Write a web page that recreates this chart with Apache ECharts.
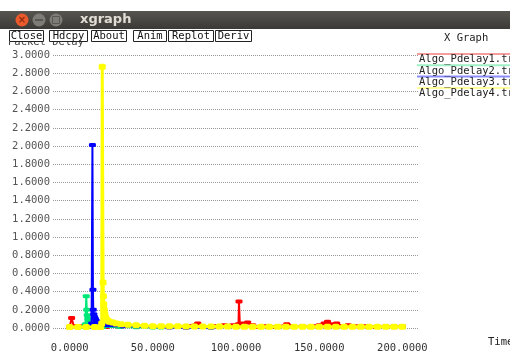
<!DOCTYPE html>
<html><head><meta charset="utf-8">
<script src="https://cdn.jsdelivr.net/npm/echarts@6/dist/echarts.min.js"></script>
<style>html,body{margin:0;padding:0;background:#fff}#c{width:510px;height:354px}</style>
</head><body><div id="c"></div>
<script>
// ---- data (time in s, delay) ----
const seriesNames = ['Algo_Pdelay1.tr','Algo_Pdelay2.tr','Algo_Pdelay3.tr','Algo_Pdelay4.tr'];
const yTicks = {min: 0, max: 3, step: 0.2};
const xTicks = {min: -10, max: 210, step: 10, labelEvery: 50};
const xGridLines = [50, 100, 150, 200];
const pdelay1 = [[0,0.01],[1.2,0.11],[2.5,0.02],[8,0.02],[15,0.02],[22,0.01],[30,0.01],[40,0.01],[50,0.01],[60,0.01],[70,0.02],[77,0.05],[80,0.02],[88,0.02],[93,0.03],[98,0.03],[101.5,0.04],[101.8,0.29],[102.3,0.04],[104,0.05],[107,0.06],[110,0.03],[113,0.01],[118,0.02],[124,0.01],[130.5,0.04],[134,0.02],[140,0.02],[146,0.02],[150,0.03],[153,0.05],[155,0.07],[157,0.04],[160.5,0.05],[164,0.02],[167.5,0.03],[172,0.02],[178,0.02],[184,0.01],[190,0.02],[195,0.02],[200,0.02]];
const pdelay2 = [[8.5,0.01],[9.5,0.04],[10,0.35],[10.3,0.2],[10.6,0.14],[11,0.1],[11.5,0.08],[12,0.06],[12.5,0.04],[13,0.03],[14,0.02],[16,0.015],[20,0.01],[30,0.01],[40,0.008],[50,0.006],[55,0.005]];
const pdelay3 = [[12.5,0.01],[13.2,0.05],[13.7,2.01],[14,0.42],[14.2,0.2],[14.5,0.15],[15,0.12],[15.5,0.1],[16,0.08],[17,0.06],[18,0.05],[20,0.04],[23,0.03],[27,0.03],[32,0.02],[40,0.02],[50,0.01],[60,0.005],[70,0.004],[85,0.003]];
const pdelay4 = [[0,0.01],[5,0.01],[10,0.01],[15,0.01],[18.5,0.01],[19.3,0.05],[19.6,2.87],[20.1,0.5],[20.3,0.35],[20.5,0.26],[20.8,0.2],[21.1,0.15],[21.5,0.12],[22,0.1],[23,0.08],[24,0.07],[26,0.06],[28,0.05],[31,0.04],[35,0.035],[40,0.03],[45,0.025],[50,0.02],[55,0.02],[60,0.018],[65,0.018],[70,0.017],[75,0.017],[80,0.016],[85,0.016],[90,0.016],[95,0.016],[100,0.015],[105,0.015],[110,0.015],[115,0.015],[120,0.015],[125,0.015],[130,0.015],[135,0.015],[140,0.015],[145,0.015],[150,0.015],[155,0.015],[160,0.015],[165,0.015],[170,0.015],[175,0.015],[180,0.015],[185,0.015],[190,0.015],[195,0.015],[200,0.015]];
const allData = [pdelay1, pdelay2, pdelay3, pdelay4];
const buttons = ['Close','Hdcpy','About','Anim','Replot','Deriv'];

// ---- styles ----
const colors = ['#ff0000','#00e878','#0000ff','#ffff00'];
const legendColors = ['#f59c9c','#9ff0c6','#8c8cff','#ffff9a'];
const mono = 'DejaVu Sans Mono';
const buttonBoxes = [[9,43],[49,87],[91,126],[133,166],[168,213],[215,251]];

const chart = echarts.init(document.getElementById('c'), null, {renderer:'canvas'});

const series = [{
  type:'line', data:[], silent:true, clip:false, z:1,
  markLine:{silent:true, symbol:['none','none'], animation:false, label:{show:false},
    lineStyle:{color:'#444', type:[1,1], width:1},
    data: xGridLines.map(v => [{coord:[v,-0.08]},{coord:[v,3.02]}])}
}];
allData.forEach((d,i) => series.push({
  name: seriesNames[i], type:'line', data:d, z: 2+i,
  symbol:'roundRect', symbolSize: i===3 ? [7,6] : [7,4], showSymbol:true,
  itemStyle:{color:colors[i]}, lineStyle:{color:colors[i], width: i===3 ? 3 : 2},
  animation:false, silent:true
}));

const graphic = [
  {type:'rect', shape:{x:0,y:11,width:510,height:18}, z:100,
   style:{fill:new echarts.graphic.LinearGradient(0,0,0,1,[{offset:0,color:'#57554f'},{offset:1,color:'#3b3a36'}])}},
  {type:'circle', shape:{cx:22,cy:20,r:6.5}, z:101, style:{fill:'#ea5a2c'}},
  {type:'text', x:22, y:20, z:102, style:{text:'×', fill:'#8a2a10', font:'bold 10px DejaVu Sans', align:'center', verticalAlign:'middle'}},
  {type:'circle', shape:{cx:39,cy:20,r:6.5}, z:101, style:{fill:'#7e7c76'}},
  {type:'rect', shape:{x:35,y:19,width:8,height:2}, z:102, style:{fill:'#5a5853'}},
  {type:'circle', shape:{cx:56,cy:20,r:6.5}, z:101, style:{fill:'#7e7c76'}},
  {type:'rect', shape:{x:52.5,y:16.5,width:7,height:7}, z:102, style:{fill:'none', stroke:'#5a5853', lineWidth:1}},
  {type:'text', x:80, y:20, z:101, style:{text:'xgraph', fill:'#e2ded6', font:'bold 13px DejaVu Sans', verticalAlign:'middle'}},
  {type:'text', x:8, y:42.5, z:90, style:{text:'Packet Delay', fill:'#444', font:'10.5px '+mono, verticalAlign:'middle'}},
  {type:'rect', shape:{x:0,y:29,width:510,height:13}, z:95, style:{fill:'#fff'}},
  {type:'text', x:444, y:38, z:101, style:{text:'X Graph', fill:'#222', font:'10.5px '+mono, verticalAlign:'middle'}},
  {type:'text', x:488, y:342, z:101, style:{text:'Time', fill:'#222', font:'10.5px '+mono, verticalAlign:'middle'}}
];
buttons.forEach((b,i) => {
  const [x0,x1] = buttonBoxes[i];
  graphic.push({type:'rect', shape:{x:x0+0.5,y:30.5,width:x1-x0,height:11}, z:100, style:{fill:'#fff', stroke:'#222', lineWidth:1}});
  graphic.push({type:'text', x:(x0+x1)/2+0.5, y:36.5, z:101, style:{text:b, fill:'#111', font:'10.5px '+mono, align:'center', verticalAlign:'middle'}});
});
seriesNames.forEach((n,i) => {
  graphic.push({type:'rect', shape:{x:417,y:53+11.3*i,width:93,height:2}, z:100, style:{fill:legendColors[i]}});
  graphic.push({type:'text', x:419, y:59.5+11.3*i, z:101, style:{text:n, fill:'#222', font:'10.5px '+mono, verticalAlign:'middle'}});
});

chart.setOption({
  backgroundColor:'#fff',
  animation:false,
  grid:{left:53, right:91, top:55, bottom:25},
  xAxis:{type:'value', min:xTicks.min, max:xTicks.max, interval:xTicks.step,
    axisLine:{show:false}, axisTick:{show:false}, splitLine:{show:false},
    axisLabel:{margin:15, color:'#333', fontFamily:mono, fontSize:10.5, showMinLabel:true, showMaxLabel:true,
      formatter: v => { const r = Math.round(v); return (Math.abs(v-r)<1e-6 && r>=0 && r % xTicks.labelEvery===0) ? r.toFixed(4) : ''; }}},
  yAxis:{type:'value', min:yTicks.min, max:yTicks.max, interval:yTicks.step,
    axisLine:{show:false}, axisTick:{show:false},
    splitLine:{show:true, lineStyle:{color:'#9a9a9a', type:[1,1], width:1}},
    axisLabel:{margin:3, color:'#555', fontFamily:mono, fontSize:10.5, formatter: v => v.toFixed(4)}},
  series: series,
  graphic: graphic
});
</script></body></html>
